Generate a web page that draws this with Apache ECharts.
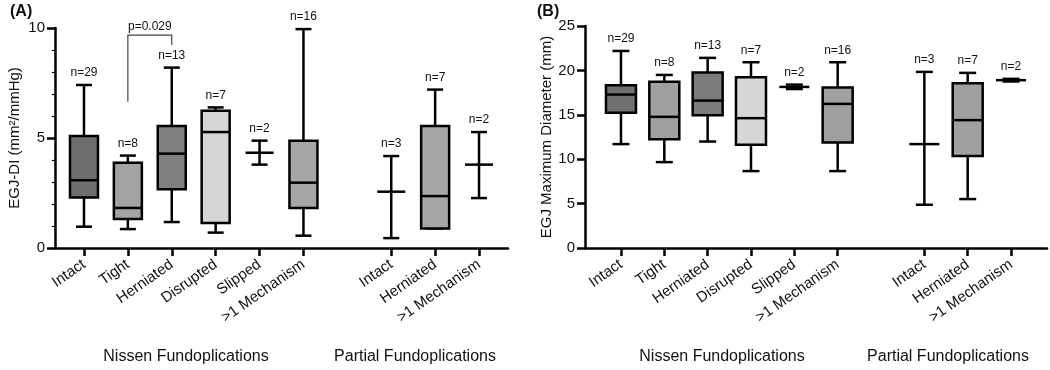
<!DOCTYPE html>
<html>
<head>
<meta charset="utf-8">
<script src="https://cdn.jsdelivr.net/npm/echarts@6/dist/echarts.min.js"></script>
<style>
    html, body { margin: 0; padding: 0; background: #fff; }
    #chart { width: 1050px; height: 370px; }
</style>
</head>
<body>
<div id="chart"></div>
<script>
// slot 6 is the gap between the two groups
const categories = ["Intact", "Tight", "Herniated", "Disrupted", "Slipped", ">1 Mechanism", "", "Intact", "Herniated", ">1 Mechanism"];
const positions = [0, 1, 2, 3, 4, 5, 7, 8, 9];
const counts = [29, 8, 13, 7, 2, 16, 3, 7, 2];
const boxFillA = ["#6e6e6e", "#a3a3a3", "#808080", "#d6d6d6", null, "#a6a6a6", null, "#a6a6a6", null];
const boxFillB = ["#707070", "#a0a0a0", "#7c7c7c", "#d6d6d6", null, "#a0a0a0", null, "#a0a0a0", null];

// [min, q1, median, q3, max]; q1/q3 null -> drawn as range + median only
const egjDI = [
    [0.97, 2.30, 3.08, 5.09, 7.41],
    [0.86, 1.32, 1.82, 3.88, 4.20],
    [1.18, 2.67, 4.29, 5.55, 8.20],
    [0.70, 1.14, 5.27, 6.24, 6.39],
    [3.79, null, 4.33, null, 4.88],
    [0.56, 1.82, 2.97, 4.88, 9.95],
    [0.45, null, 2.56, null, 4.18],
    [0.89, 0.89, 2.36, 5.55, 7.20],
    [2.27, null, 3.79, null, 5.27],
];
const egjDiam = [
    [11.70, 15.22, 17.28, 18.33, 22.19],
    [9.67, 12.26, 14.77, 18.71, 19.49],
    [11.99, 14.96, 16.60, 19.75, 21.41],
    [8.66, 11.62, 14.62, 19.24, 20.92],
    [17.90, null, 18.14, null, 18.40],
    [8.66, 11.88, 16.23, 18.07, 20.92],
    [4.87, null, 11.70, null, 19.83],
    [5.51, 10.35, 14.40, 18.56, 19.72],
    [18.75, null, 18.90, null, 19.05],
];

// significance bracket between Tight and Herniated (panel A)
const bracketX = [1, 2];
const bracketY = [6.65, 9.68, 9.23]; // left leg end, top, right leg end
const bracketText = "p=0.029";

const FONT = "'Liberation Sans', Arial, sans-serif";
const INK = "#111";

function boxRender(stats, fills, boxW, capW) {
    return function (params, api) {
        const i = params.dataIndex;
        const s = stats[i];
        const x = api.value(0);
        const cx = api.coord([x, s[2]])[0];
        const y = (v) => api.coord([x, v])[1];
        const stroke = { stroke: "#000", lineWidth: 2.5 };
        const kids = [];
        kids.push({ type: "line", shape: { x1: cx, y1: y(s[0]), x2: cx, y2: y(s[4]) }, style: stroke });
        kids.push({ type: "line", shape: { x1: cx - capW / 2, y1: y(s[4]), x2: cx + capW / 2, y2: y(s[4]) }, style: stroke });
        kids.push({ type: "line", shape: { x1: cx - capW / 2, y1: y(s[0]), x2: cx + capW / 2, y2: y(s[0]) }, style: stroke });
        if (s[1] !== null) {
            kids.push({
                type: "rect",
                shape: { x: cx - boxW / 2, y: y(s[3]), width: boxW, height: y(s[1]) - y(s[3]) },
                style: { fill: fills[i], stroke: "#000", lineWidth: 2.5 },
            });
        }
        kids.push({ type: "line", shape: { x1: cx - boxW / 2, y1: y(s[2]), x2: cx + boxW / 2, y2: y(s[2]) }, style: stroke });
        kids.push({
            type: "text",
            style: {
                text: "n=" + counts[i], x: cx, y: y(s[4]) - 12,
                align: "center", verticalAlign: "middle",
                font: "12px " + FONT, fill: INK,
            },
        });
        return { type: "group", children: kids };
    };
}

function xAxisFor(grid, min, max) {
    return {
        type: "value", gridIndex: grid, min: min, max: max,
        axisLine: { show: true, onZero: false, lineStyle: { color: "#000", width: 2.5 } },
        axisTick: { show: true, customValues: positions, length: 8, lineStyle: { color: "#000", width: 2.5 } },
        axisLabel: {
            show: true, customValues: positions, rotate: 35, margin: 15,
            fontSize: 15, fontFamily: FONT, color: INK,
            formatter: (v) => categories[Math.round(v)],
        },
        splitLine: { show: false },
    };
}

function yAxisFor(grid, max, name, gap, minor) {
    return {
        type: "value", gridIndex: grid, min: 0, max: max, interval: 5,
        name: name, nameLocation: "middle", nameGap: gap, nameRotate: 90,
        nameTextStyle: { fontSize: 15, fontFamily: FONT, color: INK },
        axisLine: { show: true, onZero: false, lineStyle: { color: "#000", width: 2.5 } },
        axisTick: { show: true, length: 8, lineStyle: { color: "#000", width: 2.5 } },
        minorTick: { show: minor, splitNumber: 5, length: 3, lineStyle: { color: "#000", width: 1.2 } },
        axisLabel: { fontSize: 15, fontFamily: FONT, color: INK, margin: 10 },
        splitLine: { show: false },
    };
}

const chart = echarts.init(document.getElementById("chart"));
chart.setOption({
    animation: false,
    grid: [
        { left: 55, right: 542, top: 28, bottom: 122 },
        { left: 585, right: 3, top: 26, bottom: 122 },
    ],
    xAxis: [xAxisFor(0, -0.66, 9.66), xAxisFor(1, -0.83, 9.83)],
    yAxis: [
        yAxisFor(0, 10, "EGJ-DI (mm²/mmHg)", 33, true),
        yAxisFor(1, 25, "EGJ Maximum Diameter (mm)", 27, false),
    ],
    graphic: [
        { type: "text", left: 10, top: 4, style: { text: "(A)", font: "bold 16px " + FONT, fill: INK } },
        { type: "text", left: 537, top: 4, style: { text: "(B)", font: "bold 16px " + FONT, fill: INK } },
        { type: "text", x: 186, y: 357, style: { text: "Nissen Fundoplications", font: "16px " + FONT, fill: INK, align: "center", verticalAlign: "middle" } },
        { type: "text", x: 415, y: 357, style: { text: "Partial Fundoplications", font: "16px " + FONT, fill: INK, align: "center", verticalAlign: "middle" } },
        { type: "text", x: 722, y: 357, style: { text: "Nissen Fundoplications", font: "16px " + FONT, fill: INK, align: "center", verticalAlign: "middle" } },
        { type: "text", x: 948, y: 357, style: { text: "Partial Fundoplications", font: "16px " + FONT, fill: INK, align: "center", verticalAlign: "middle" } },
    ],
    series: [
        {
            type: "custom", xAxisIndex: 0, yAxisIndex: 0,
            renderItem: boxRender(egjDI, boxFillA, 28, 16),
            encode: { x: 0, y: [1, 2, 3] },
            data: positions.map((p, i) => [p, egjDI[i][0], egjDI[i][2], egjDI[i][4]]),
        },
        {
            type: "custom", xAxisIndex: 1, yAxisIndex: 1,
            renderItem: boxRender(egjDiam, boxFillB, 30, 17),
            encode: { x: 0, y: [1, 2, 3] },
            data: positions.map((p, i) => [p, egjDiam[i][0], egjDiam[i][2], egjDiam[i][4]]),
        },
        {
            type: "custom", xAxisIndex: 0, yAxisIndex: 0,
            renderItem: function (params, api) {
                const a = api.coord([api.value(0), api.value(2)]);
                const b = api.coord([api.value(1), api.value(3)]);
                const yl = api.coord([api.value(0), api.value(4)])[1];
                const yr = api.coord([api.value(1), api.value(5)])[1];
                return {
                    type: "group",
                    children: [
                        { type: "polyline", shape: { points: [[a[0], yl], [a[0], a[1]], [b[0], a[1]], [b[0], yr]] }, style: { stroke: "#444", lineWidth: 1.2, fill: null } },
                        { type: "text", style: { text: bracketText, x: (a[0] + b[0]) / 2, y: a[1] - 8, align: "center", verticalAlign: "middle", font: "12px " + FONT, fill: INK } },
                    ],
                };
            },
            data: [[bracketX[0], bracketX[1], bracketY[1], bracketY[1], bracketY[0], bracketY[2]]],
        },
    ],
});
</script>
</body>
</html>
